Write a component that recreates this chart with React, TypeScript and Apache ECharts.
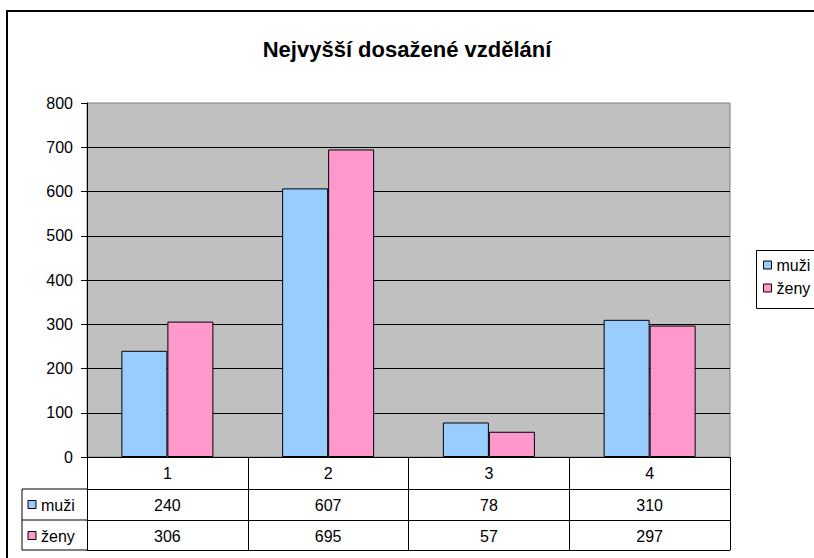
import React, { useEffect, useRef } from "react";
import * as echarts from "echarts";

const categories = ["1", "2", "3", "4"];
const muzi = [240, 607, 78, 310];
const zeny = [306, 695, 57, 297];
const seriesNames = ["muži", "ženy"];
const seriesColors = ["#99CCFF", "#FF99CC"];
const titleText = "Nejvyšší dosažené vzdělání";
const yMin = 0;
const yMax = 800;
const yInterval = 100;

const FONT = "'Liberation Sans', Arial, sans-serif";

export default function App() {
  const ref = useRef<HTMLDivElement>(null);
  useEffect(() => {
    if (!ref.current) return;
    const chart = echarts.init(ref.current, undefined, { renderer: "svg" });
    const gridLeft = 87;
    const gridRight = 730;
    const gridTop = 103;
    const gridBottom = 457;
    const rowH = 31;
    const tableLeft = 22;
    const valueRows = [muzi, zeny];

    const tableGraphics: any[] = [];
    const r1 = gridBottom + rowH + 1;
    const r2 = r1 + rowH;
    const r3 = r2 + rowH - 1;
    [r1, r2, r3].forEach((y) =>
      tableGraphics.push({
        type: "line",
        shape: { x1: tableLeft, y1: y, x2: gridLeft, y2: y },
        style: { stroke: "#000", lineWidth: 1 },
      })
    );
    tableGraphics.push({
      type: "line",
      shape: { x1: tableLeft, y1: r1, x2: tableLeft, y2: r3 },
      style: { stroke: "#000", lineWidth: 1 },
    });
    seriesNames.forEach((name, i) => {
      const top = r1 + i * rowH;
      tableGraphics.push({
        type: "rect",
        shape: { x: tableLeft + 6, y: top + rowH / 2 - 4, width: 8, height: 8 },
        style: { fill: seriesColors[i], stroke: "#000", lineWidth: 1 },
      });
      tableGraphics.push({
        type: "text",
        x: tableLeft + 19,
        y: top + rowH / 2 + 1,
        style: {
          text: name,
          fill: "#000",
          font: `16px ${FONT}`,
          verticalAlign: "middle",
        },
      });
    });

    chart.setOption({
      animation: false,
      backgroundColor: "#fff",
      textStyle: { fontFamily: FONT },
      title: {
        text: titleText,
        left: "center",
        top: 33,
        textStyle: { fontSize: 22, fontWeight: "bold", color: "#000", fontFamily: FONT },
      },
      legend: {
        orient: "vertical",
        left: 756,
        top: 250,
        padding: [7, 10, 11, 7],
        itemWidth: 8,
        itemHeight: 8,
        itemGap: 7,
        icon: "rect",
        itemStyle: { borderColor: "#000", borderWidth: 1 },
        textStyle: { fontSize: 16, color: "#000", fontFamily: FONT },
        data: seriesNames,
        z: 10,
      },
      grid: {
        left: gridLeft,
        top: gridTop,
        right: 814 - gridRight,
        bottom: 558 - gridBottom,
        show: true,
        backgroundColor: "#C0C0C0",
        borderColor: "#808080",
        borderWidth: 1,
      },
      xAxis: [
        {
          type: "category",
          data: categories,
          position: "bottom",
          axisLine: { show: true, lineStyle: { color: "#000", width: 1 } },
          axisTick: { show: true, interval: 0, length: rowH * 3, lineStyle: { color: "#000" } },
          axisLabel: { color: "#000", fontSize: 16, margin: 8, fontFamily: FONT },
        },
        ...valueRows.map((vals, i) => ({
          type: "category",
          data: vals.map(String),
          position: "bottom",
          offset: rowH * (i + 1) + 1,
          axisLine: { show: true, lineStyle: { color: "#000", width: 1 } },
          axisTick: { show: false },
          axisLabel: { color: "#000", fontSize: 16, margin: 8, fontFamily: FONT },
        })),
        {
          type: "category",
          data: categories,
          position: "bottom",
          offset: rowH * 3,
          axisLine: { show: true, lineStyle: { color: "#000", width: 1 } },
          axisTick: { show: false },
          axisLabel: { show: false },
        },
      ],
      yAxis: {
        type: "value",
        min: yMin,
        max: yMax,
        interval: yInterval,
        axisLine: { show: true, lineStyle: { color: "#000", width: 1 } },
        axisTick: { show: true, length: 6, lineStyle: { color: "#000" } },
        axisLabel: { color: "#000", fontSize: 16, margin: 14, fontFamily: FONT },
        splitLine: { show: true, showMaxLine: false, lineStyle: { color: "#000", width: 1 } },
      },
      series: seriesNames.map((name, i) => ({
        name,
        type: "bar",
        xAxisIndex: 0,
        data: valueRows[i],
        barWidth: 46,
        barGap: "0%",
        itemStyle: { color: seriesColors[i], borderColor: "#000", borderWidth: 1 },
      })),
      graphic: [
        {
          type: "rect",
          shape: { x: 7, y: 11, width: 900, height: 700 },
          style: { fill: "none", stroke: "#000", lineWidth: 2 },
          z: 100,
        },
        {
          type: "rect",
          shape: { x: 756.5, y: 250.5, width: 120, height: 58 },
          style: { fill: "#fff", stroke: "#000", lineWidth: 1 },
          z: 1,
        },
        ...tableGraphics,
      ],
    });
    return () => chart.dispose();
  }, []);
  return (
    <div
      ref={ref}
      style={{ position: "absolute", left: 0, top: 0, width: 814, height: 558 }}
    />
  );
}
